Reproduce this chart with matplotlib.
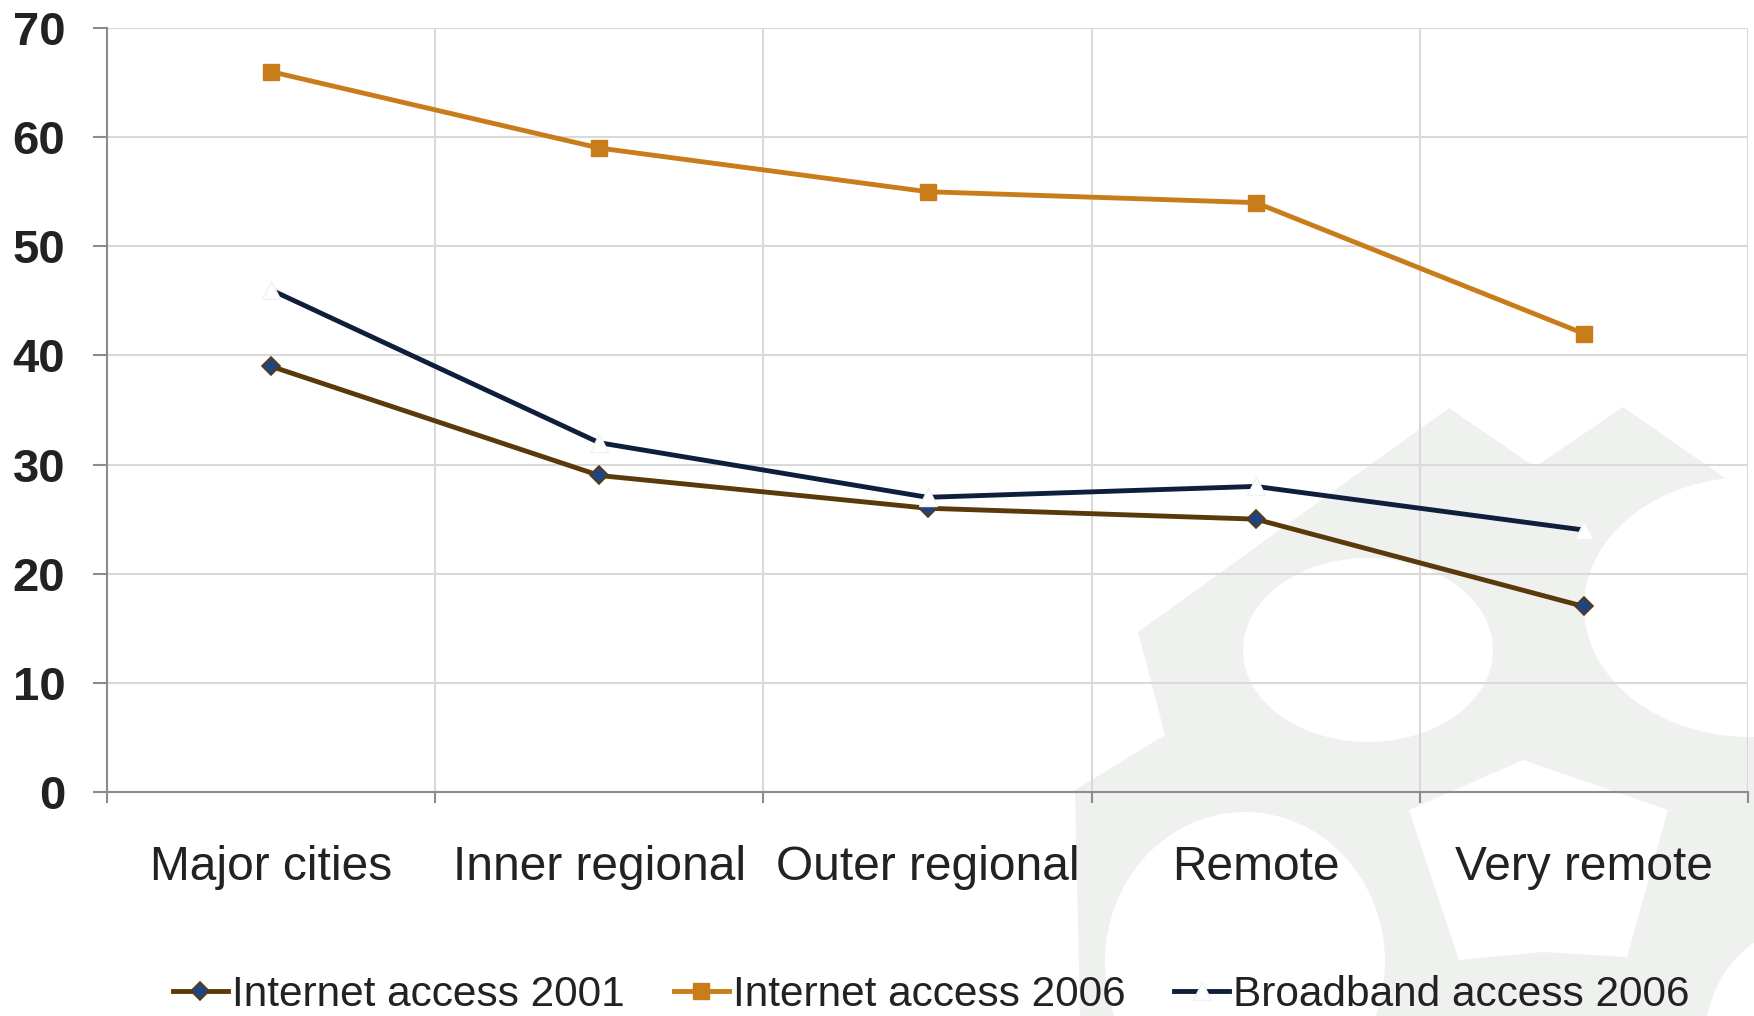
import numpy as np
import matplotlib.pyplot as plt
from matplotlib.patches import Ellipse, Polygon

categories = ["Major cities", "Inner regional", "Outer regional", "Remote", "Very remote"]
internet_2001 = [39, 29, 26, 25, 17]
internet_2006 = [66, 59, 55, 54, 42]
broadband_2006 = [46, 32, 27, 28, 24]

W, H = 1754, 1016
plt.rcParams['font.family'] = ['Liberation Sans', 'DejaVu Sans']

fig = plt.figure(figsize=(W / 100, H / 100), dpi=100)

# faint logo in the background (decoration only), pixel coords
bg = fig.add_axes([0, 0, 1, 1])
bg.set_xlim(0, W)
bg.set_ylim(H, 0)
bg.axis('off')
wm = '#eff1ef'
outline = [(1080, 1016), (1075, 790), (1165, 735), (1138, 632), (1449, 408),
           (1535, 467), (1623, 407), (1728, 480), (1754, 480), (1754, 1016)]
bg.add_patch(Polygon(outline, closed=True, color=wm, lw=0))
holes = [((1368, 650), 125, 92), ((1750, 607), 166, 130),
         ((1245, 962), 140, 150), ((1810, 1040), 105, 115)]
for c, rx, ry in holes:
    bg.add_patch(Ellipse(c, 2 * rx, 2 * ry, color='white', lw=0))
pent = [(1409, 810), (1523, 760), (1668, 810), (1627, 957), (1543, 952), (1459, 960)]
bg.add_patch(Polygon(pent, closed=True, color='white', lw=0))

ax = fig.add_axes([107 / W, 1 - 792 / H, 1641 / W, 764 / H])
ax.set_zorder(1)
ax.set_facecolor('none')

x = np.arange(len(categories)) + 0.5
ax.plot(x, internet_2001, color='#5a3a0a', lw=3.5, marker='D', ms=9,
        mfc='#1f4480', mec='#5a3a0a', mew=1.2, label='Internet access 2001', zorder=3)
ax.plot(x, internet_2006, color='#c87d1a', lw=3.5, marker='s', ms=12,
        mfc='#c87d1a', mec='#c87d1a', label='Internet access 2006', zorder=3)
ax.plot(x, broadband_2006, color='#0f1e3c', lw=3.5, marker='^', ms=13,
        mfc='white', mec='#f2f2f2', mew=1, label='Broadband access 2006', zorder=4)

ax.set_xlim(0, len(categories))
ax.set_ylim(0, 70)
ax.set_yticks(range(0, 71, 10))
ax.set_xticks(range(0, len(categories) + 1))
ax.set_xticklabels([])
ax.set_xticks(x, minor=True)
ax.set_xticklabels(categories, minor=True, fontsize=34.5, color='#222222')
ax.tick_params(axis='x', which='minor', length=0, pad=38)
ax.tick_params(axis='x', which='major', length=8, width=1.5, color='#8c8c8c', direction='out')
ax.tick_params(axis='y', length=10, width=1.5, color='#8c8c8c', direction='out', pad=20)
for t in ax.get_yticklabels():
    t.set_fontsize(34)
    t.set_fontweight('bold')
    t.set_color('#222222')

ax.grid(True, which='major', color='#d9d9d9', lw=1.5)
ax.set_axisbelow(True)
for s in ['top', 'right']:
    ax.spines[s].set_visible(False)
for s in ['left', 'bottom']:
    ax.spines[s].set_color('#8c8c8c')
    ax.spines[s].set_linewidth(1.5)

leg = fig.legend(loc='center', bbox_to_anchor=(0.531, 1 - 995 / H), ncol=3, frameon=False,
                 fontsize=30.5, handlelength=1.3, handletextpad=0.1, columnspacing=1.15,
                 borderpad=0)
for t in leg.get_texts():
    t.set_color('#222222')

fig.savefig('out.png', dpi=100)
